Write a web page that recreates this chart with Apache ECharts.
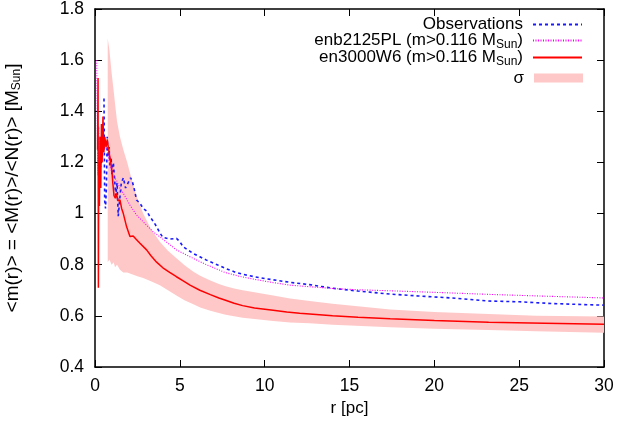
<!DOCTYPE html>
<html>
<head>
<meta charset="utf-8">
<script src="https://cdn.jsdelivr.net/npm/echarts@6/dist/echarts.min.js"></script>
<style>
html,body{margin:0;padding:0;background:#fff;}
#chart{width:637px;height:428px;}
</style>
</head>
<body>
<div id="chart"></div>
<script>
// ---- data ----
const xTicks = [0, 5, 10, 15, 20, 25, 30];
const yTicks = [0.4, 0.6, 0.8, 1.0, 1.2, 1.4, 1.6, 1.8];

const observations = [
  [0.53,1.45],[0.57,1.05],[0.62,1.02],[0.67,1.1],[0.72,1.3],[0.77,1.22],[0.83,1.26],[0.88,1.19],
  [0.95,1.22],[1.0,1.15],[1.08,1.2],[1.15,1.14],[1.22,1.07],[1.3,1.12],[1.37,0.99],[1.45,1.05],
  [1.55,1.12],[1.67,1.14],[1.8,1.1],[1.95,1.12],[2.1,1.14],[2.2,1.125],[2.3,1.1],[2.45,1.053],
  [2.65,1.04],[2.84,1.02],[3.04,1.01],[3.24,0.988],[3.43,0.97],[3.63,0.949],[3.82,0.925],[4.0,0.907],
  [4.4,0.9],[4.8,0.903],[5.0,0.89],[5.2,0.87],[5.78,0.844],[6.18,0.831],[6.57,0.818],[7.2,0.8],
  [7.7,0.785],[8.3,0.77],[8.9,0.76],[9.4,0.753],[10.1,0.745],[11.5,0.731],[12.65,0.722],[14,0.708],
  [15.5,0.697],[17.4,0.685],[19,0.678],[21,0.67],[23.2,0.658],[25,0.655],[27,0.648],[29.8,0.642],[30,0.642]
];

const enb2125PL = [
  [0.1,1.6],[0.14,1.3],[0.18,1.15],[0.22,1.34],[0.26,1.12],[0.3,1.3],[0.35,1.18],[0.4,1.33],
  [0.45,1.22],[0.5,1.3],[0.55,1.25],[0.62,1.28],[0.7,1.26],[0.8,1.22],[0.9,1.18],[1.05,1.15],
  [1.27,1.13],[1.47,1.1],[1.67,1.079],[2.06,1.033],[2.45,0.994],[2.84,0.968],[3.43,0.929],[4.0,0.9],
  [4.8,0.858],[5.78,0.825],[6.57,0.8],[7.65,0.77],[8.5,0.755],[9.4,0.743],[10.5,0.73],[11.5,0.72],
  [12.65,0.714],[14,0.707],[15.5,0.702],[17.4,0.698],[20,0.692],[23.2,0.684],[26.5,0.677],[30,0.67]
];

const en3000W6 = [
  [0.15,1.25],[0.18,1.53],[0.2,0.71],[0.22,1.2],[0.26,1.03],[0.3,1.3],[0.34,1.1],[0.38,1.35],
  [0.42,1.2],[0.47,1.38],[0.52,1.24],[0.58,1.3],[0.65,1.26],[0.72,1.29],[0.8,1.25],[0.88,1.22],
  [0.98,1.18],[1.05,1.12],[1.12,1.07],[1.2,1.06],[1.27,1.079],[1.35,1.05],[1.47,1.053],[1.57,1.02],
  [1.67,1.0],[1.86,0.949],[2.06,0.91],[2.25,0.912],[2.45,0.898],[2.65,0.884],[3.04,0.858],[3.3,0.835],
  [3.63,0.81],[4.0,0.788],[4.4,0.77],[4.8,0.753],[5.2,0.737],[5.6,0.72],[6.18,0.70],[6.8,0.683],
  [7.3,0.67],[7.65,0.662],[8.2,0.649],[8.7,0.64],[9.4,0.631],[10.5,0.622],[11.3,0.615],[12.06,0.61],
  [12.65,0.607],[14,0.6],[15.5,0.595],[17.4,0.589],[20,0.582],[23.2,0.575],[26.5,0.571],[30,0.567]
];

const sigmaR     = [0.75,0.85,0.98,1.1,1.18,1.3,1.47,1.67,1.9,2.1,2.3,2.5,2.84,3.3,3.82,4.3,4.8,5.3,5.8,6.2,6.8,7.3,7.7,8.2,8.7,9.4,10.5,11.5,12.65,14,17.4,20,23.2,26,30];
const sigmaLower = [0.81,0.82,0.80,0.81,0.79,0.80,0.78,0.77,0.77,0.765,0.76,0.755,0.748,0.735,0.72,0.70,0.68,0.66,0.645,0.633,0.62,0.611,0.604,0.598,0.593,0.588,0.58,0.574,0.571,0.565,0.555,0.55,0.545,0.54,0.534];
const sigmaUpper = [1.685,1.64,1.55,1.48,1.43,1.36,1.30,1.25,1.20,1.15,1.10,1.06,1.0,0.94,0.89,0.855,0.825,0.797,0.772,0.757,0.738,0.725,0.716,0.707,0.70,0.692,0.68,0.668,0.658,0.647,0.625,0.615,0.607,0.60,0.597];

// ---- build ----
const FONT = 'Liberation Sans, Arial, Helvetica, sans-serif';
const PINK = '#ffc8c8';
const sigmaData = sigmaR.map((r, i) => [r, sigmaLower[i], sigmaUpper[i]]);

const labelMap = {
  'Observations': 'Observations',
  'enb2125PL': 'enb2125PL (m>0.116 M{s|Sun})',
  'en3000W6': 'en3000W6 (m>0.116 M{s|Sun})',
  'σ': 'σ'
};
const rich = { s: { fontSize: 12, fontFamily: FONT, color: '#000', padding: [9, 0, 0, 0] } };

function mkLegend(name, top, extra) {
  return Object.assign({
    data: [name],
    right: 54,
    top: top,
    orient: 'vertical',
    align: 'right',
    padding: 0,
    itemWidth: 49,
    itemHeight: 9,
    selectedMode: false,
    itemStyle: { opacity: 0 },
    formatter: n => labelMap[n],
    textStyle: { fontFamily: FONT, fontSize: 17, lineHeight: 18, color: '#000', padding: [0, 5, 0, 0], rich: rich }
  }, extra || {});
}

const axisCommonX = {
  type: 'value', min: 0, max: 30, interval: 5,
  axisLine: { show: true, onZero: false, lineStyle: { color: '#000', width: 1.5 } },
  axisTick: { show: true, inside: true, length: 7, lineStyle: { color: '#000', width: 1 } },
  splitLine: { show: false }
};
const axisCommonY = {
  type: 'value', min: 0.4, max: 1.8, interval: 0.2,
  axisLine: { show: true, onZero: false, lineStyle: { color: '#000', width: 1.5 } },
  axisTick: { show: true, inside: true, length: 7, lineStyle: { color: '#000', width: 1 } },
  splitLine: { show: false }
};

const chart = echarts.init(document.getElementById('chart'));
chart.setOption({
  animation: false,
  backgroundColor: '#fff',
  grid: { left: 95, right: 33, top: 9, bottom: 61, containLabel: false, outerBoundsMode: 'none' },
  legend: [
    mkLegend('Observations', 15.5),
    mkLegend('enb2125PL', 31.5),
    mkLegend('en3000W6', 48.5),
    mkLegend('σ', 69, { data: [{ name: 'σ', icon: 'rect', itemStyle: { color: PINK, opacity: 1 } }] })
  ],
  xAxis: [
    Object.assign({}, axisCommonX, {
      position: 'bottom',
      name: 'r [pc]', nameLocation: 'middle', nameGap: 33,
      nameTextStyle: { fontFamily: FONT, fontSize: 17, color: '#000' },
      axisLabel: { margin: 10, fontFamily: FONT, fontSize: 17.5, color: '#000',
        formatter: v => (xTicks.indexOf(v) >= 0 ? String(v) : '') }
    }),
    Object.assign({}, axisCommonX, { position: 'top', axisLabel: { show: false } })
  ],
  yAxis: [
    Object.assign({}, axisCommonY, {
      position: 'left',
      name: '<m(r)> = <M(r)>/<N(r)> [M{s|Sun}]', nameLocation: 'middle', nameGap: 72, nameRotate: 90,
      nameTextStyle: { fontFamily: FONT, fontSize: 19, color: '#000', rich: rich },
      axisLabel: { margin: 11, fontFamily: FONT, fontSize: 17.5, color: '#000',
        formatter: v => {
          const t = yTicks.find(y => Math.abs(y - v) < 1e-6);
          return t === undefined ? '' : String(Math.round(t * 10) / 10);
        } }
    }),
    Object.assign({}, axisCommonY, { position: 'right', axisLabel: { show: false } })
  ],
  series: [
    {
      name: 'σ', type: 'custom', data: sigmaData, silent: true, z: 1,
      itemStyle: { color: PINK },
      encode: { x: 0, y: [1, 2] },
      renderItem: function (params, api) {
        if (params.dataIndex !== 0) return null;
        const pts = [];
        for (let i = 0; i < sigmaR.length; i++) pts.push(api.coord([sigmaR[i], sigmaUpper[i]]));
        for (let i = sigmaR.length - 1; i >= 0; i--) pts.push(api.coord([sigmaR[i], sigmaLower[i]]));
        return { type: 'polygon', shape: { points: pts, smooth: 0 }, style: { fill: PINK } };
      }
    },
    {
      name: 'Observations', type: 'line', data: observations, symbol: 'none',
      color: '#1a1aff',
      lineStyle: { color: '#1a1aff', width: 1.6, type: [3, 3] }, z: 3
    },
    {
      name: 'enb2125PL', type: 'line', data: enb2125PL, symbol: 'none',
      color: '#ff00ff',
      lineStyle: { color: '#ff00ff', width: 1.1, type: [1, 1.5] }, z: 3
    },
    {
      name: 'en3000W6', type: 'line', data: en3000W6, symbol: 'none',
      color: '#ff0000',
      lineStyle: { color: '#ff0000', width: 1.5, type: 'solid' }, z: 4
    }
  ]
});
</script>
</body>
</html>
